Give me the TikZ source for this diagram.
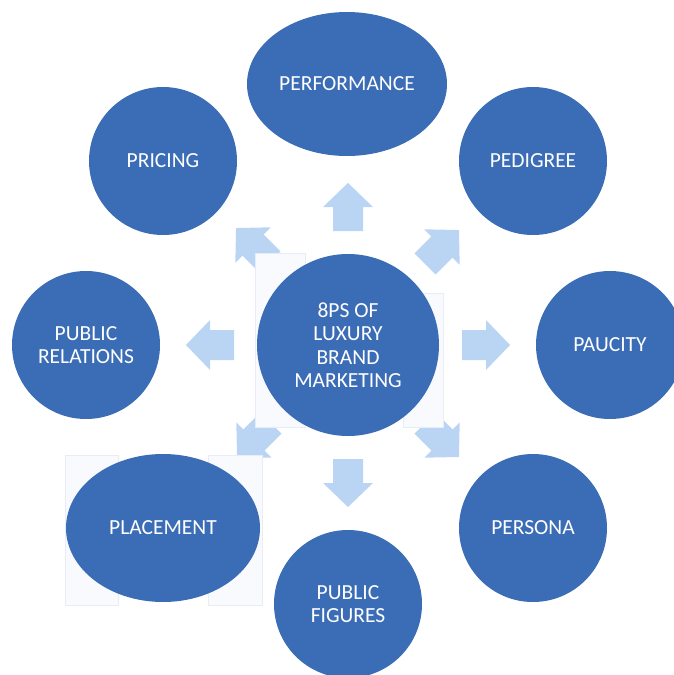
\documentclass[tikz,border=0pt]{standalone}
\usepackage{fontspec}
\setmainfont{Carlito}
\usetikzlibrary{shapes.geometric}
\definecolor{circblue}{RGB}{59,108,182}
\definecolor{arrowblue}{RGB}{186,212,243}
\definecolor{ghostfill}{RGB}{248,250,253}
\definecolor{ghostline}{RGB}{232,237,245}
\begin{document}
\begin{tikzpicture}[x=1pt,y=-1pt,
  pnode/.style={fill=circblue, text=white, font=\fontsize{21.5}{23.5}\selectfont, align=center, inner sep=0pt},
  disc/.style={pnode, circle, minimum size=148pt},
  oval/.style={pnode, ellipse, minimum width=#1, minimum height=146pt},
  ghostbox/.style={fill=ghostfill, draw=ghostline, line width=0.7pt},
  fatarrow/.pic={\fill[arrowblue] (-24,-15) -- (0,-15) -- (0,-25) -- (24,0) -- (0,25) -- (0,15) -- (-24,15) -- cycle;}]
\useasboundingbox (0,0) rectangle (674,675);
\clip (0,0) rectangle (674,675);
% light arrows
\pic[rotate=90]   at (348,207) {fatarrow};
\pic[rotate=-90]  at (348,483) {fatarrow};
\pic[rotate=180]  at (210,345) {fatarrow};
\pic[rotate=0]    at (486,345) {fatarrow};
\pic[rotate=135]  at (253,245) {fatarrow};
\pic[rotate=45]   at (442,247) {fatarrow};
\pic[rotate=-135] at (254,440) {fatarrow};
\pic[rotate=-45]  at (442,440) {fatarrow};
% faint boxes
\draw[ghostbox] (255,253) rectangle (305,427);
\draw[ghostbox] (403,293) rectangle (443,427);
\draw[ghostbox] (65,455) rectangle (118,605);
\draw[ghostbox] (208,455) rectangle (262,605);
% nodes
\node[pnode, circle, minimum size=182pt] (center) at (348,345) {8PS OF\\LUXURY\\BRAND\\MARKETING};
\node[oval=200pt, minimum height=144pt] (performance) at (347,84) {PERFORMANCE};
\node[disc] (pricing) at (163,161) {PRICING};
\node[disc] (pedigree) at (533,161) {PEDIGREE};
\node[disc] (publicrel) at (86,345) {PUBLIC\\RELATIONS};
\node[disc] (paucity) at (610,345) {PAUCITY};
\node[oval=194pt, minimum height=148pt] (placement) at (163,528) {PLACEMENT};
\node[disc] (persona) at (533,528) {PERSONA};
\node[disc] (publicfig) at (348,604) {PUBLIC\\FIGURES};
\end{tikzpicture}
\end{document}
